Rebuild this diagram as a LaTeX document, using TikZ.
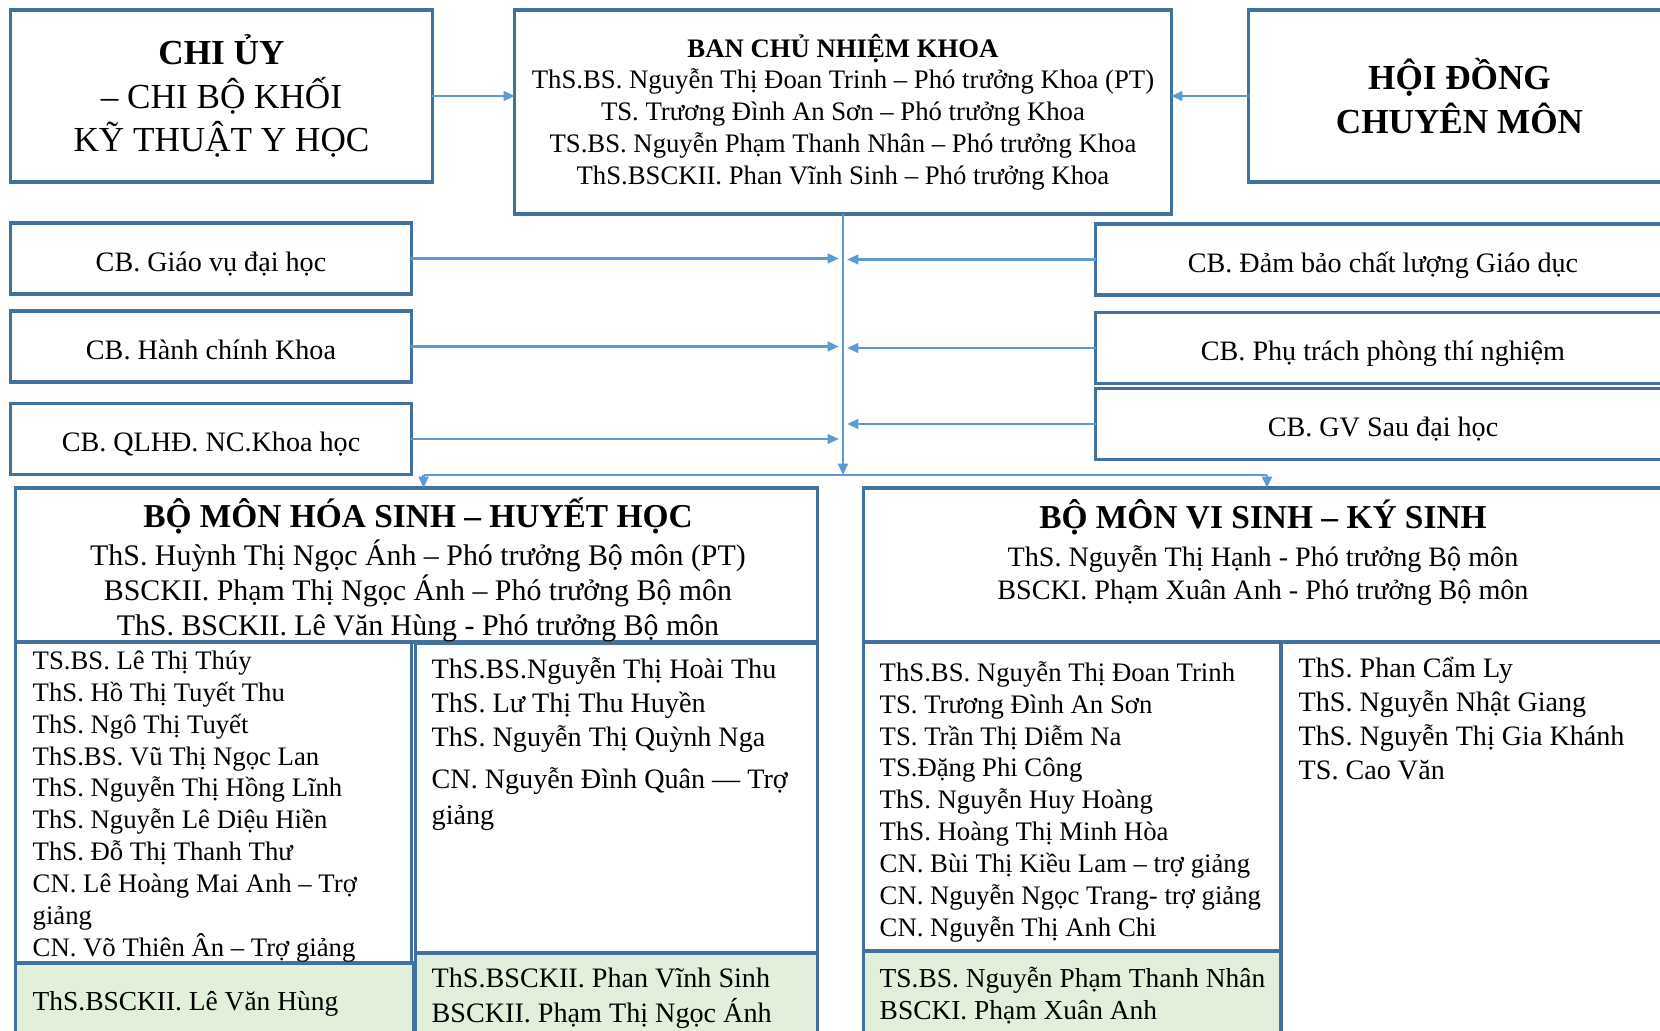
\documentclass[tikz,border=0pt]{standalone}
\usepackage{fontspec}
\setmainfont{Liberation Serif}
\usetikzlibrary{arrows.meta,positioning}
\definecolor{vienhop}{RGB}{65,113,156}
\definecolor{xanhnoi}{RGB}{91,155,213}
\definecolor{nenxanh}{RGB}{226,239,218}
\tikzset{
  hop/.style={draw=vienhop,line width=0.9pt,inner sep=0pt,outer sep=0pt,align=center},
  hopxanh/.style={hop,fill=nenxanh},
  hopcb/.style={hop,minimum height=0.71cm,text height=8.7pt,text depth=1.5pt},
  daynoi/.style={draw=xanhnoi,line width=0.6pt},
  muiten/.style={daynoi,-{Triangle[length=3.2pt,width=2.8pt]}},
  dsach/.style={inner sep=0pt,align=left,anchor=base west},
  tieude/.style={inner sep=0pt,align=center,anchor=base},
}
\begin{document}
\begin{tikzpicture}[x=0.01cm,y=-0.01cm]

    \def\cochu{\fontsize{7.6}{9.05}\selectfont}%chu nho
    \def\chuvua{\fontsize{8}{9.67}\selectfont}%chu vua
    \def\chuto{\fontsize{10}{12.3}\selectfont}%chu to

    \useasboundingbox (0,0) rectangle (1660,1031);
    \clip (0,0) rectangle (1660,1031);

    %Hang tren
    \node[hop,minimum width=4.21cm,minimum height=1.72cm,font=\chuto] (chiuy) at (221.5,96) {\textbf{CHI ỦY}\\– CHI BỘ KHỐI\\KỸ THUẬT Y HỌC};
    \node[hop,minimum width=6.56cm,minimum height=2.04cm,font=\cochu] (bcn) at (843,112) {\textbf{BAN CHỦ NHIỆM KHOA}\\ThS.BS. Nguyễn Thị Đoan Trinh – Phó trưởng Khoa (PT)\\TS. Trương Đình An Sơn – Phó trưởng Khoa\\TS.BS. Nguyễn Phạm Thanh Nhân – Phó trưởng Khoa\\ThS.BSCKII. Phan Vĩnh Sinh – Phó trưởng Khoa};
    \node[hop,minimum width=4.21cm,minimum height=1.72cm,font=\chuto\bfseries] (hoidong) at (1459.5,96) {HỘI ĐỒNG\\CHUYÊN MÔN};
    \draw[muiten] (chiuy.east) -- (chiuy.east -| bcn.west);
    \draw[muiten] (hoidong.west) -- (hoidong.west -| bcn.east);

    %Can bo hai ben
    \foreach \ten/\y/\chu in {gvu/258.5/CB. Giáo vụ đại học, hchinh/346.5/CB. Hành chính Khoa, qlhd/439/CB. QLHĐ. NC.Khoa học}{
        \node[hopcb,minimum width=4cm,font=\chuvua] (\ten) at (211,\y) {\chu};
        \draw[muiten] (\ten.east) -- ([xshift=-1.2pt]\ten.east -| bcn.south);
    }
    \foreach \ten/\y/\chu in {dbcl/259.5/CB. Đảm bảo chất lượng Giáo dục, ptpt/348/CB. Phụ trách phòng thí nghiệm, sdh/424/CB. GV Sau đại học}{
        \node[hopcb,minimum width=5.74cm,font=\chuvua] (\ten) at (1383,\y) {\chu};
        \draw[muiten] (\ten.west) -- ([xshift=1.2pt]\ten.west -| bcn.south);
    }

    %Bo mon (moc = dong cuoi)
    \node[hop,minimum width=8.01cm,minimum height=1.54cm] (hsinh) at (416.5,565) {};
    \node[tieude,font=\fontsize{9.5}{11}\selectfont\bfseries] (hsinhten) at (418,528) {BỘ MÔN HÓA SINH – HUYẾT HỌC};
    \node[tieude,font=\fontsize{8.5}{10}\selectfont] (hsinhpho) at (418,636) {ThS. Huỳnh Thị Ngọc Ánh – Phó trưởng Bộ môn (PT)\\BSCKII. Phạm Thị Ngọc Ánh – Phó trưởng Bộ môn\\ThS. BSCKII. Lê Văn Hùng - Phó trưởng Bộ môn};
    \node[hop,minimum width=8.06cm,minimum height=1.54cm] (vsinh) at (1267,565) {};
    \node[tieude,font=\fontsize{9.5}{11}\selectfont\bfseries] (vsinhten) at (1263,529) {BỘ MÔN VI SINH – KÝ SINH};
    \node[tieude,font=\fontsize{8}{9.6}\selectfont] (vsinhpho) at (1263,600) {ThS. Nguyễn Thị Hạnh - Phó trưởng Bộ môn\\BSCKI. Phạm Xuân Anh - Phó trưởng Bộ môn};

    %Cot danh sach
    \node[hop,minimum width=3.95cm,minimum height=3.21cm] (cot1) at (213.5,802.5) {};
    \node[hopxanh,minimum width=3.97cm,minimum height=0.82cm] (xanh1) at (214.5,1004) {};
    \node[hop,minimum width=4.01cm,minimum height=3.09cm] (cot2) at (616.5,798.5) {};
    \node[hopxanh,minimum width=4.01cm,minimum height=0.92cm] (xanh2) at (616.5,999) {};
    \node[hop,minimum width=4.17cm,minimum height=3.09cm] (cot3) at (1072.5,796.5) {};
    \node[hopxanh,minimum width=4.17cm,minimum height=0.94cm] (xanh3) at (1072.5,998) {};
    \node[hop,minimum width=3.89cm,minimum height=4.03cm] (cot4) at (1475.5,843.5) {};

    \node[dsach,font=\cochu] (ds1) at (32,956) {TS.BS. Lê Thị Thúy\\ThS. Hồ Thị Tuyết Thu\\ThS. Ngô Thị Tuyết\\ThS.BS. Vũ Thị Ngọc Lan\\ThS. Nguyễn Thị Hồng Lĩnh\\ThS. Nguyễn Lê Diệu Hiền\\ThS. Đỗ Thị Thanh Thư\\CN. Lê Hoàng Mai Anh – Trợ\\giảng\\CN. Võ Thiên Ân – Trợ giảng};
    \node[dsach,font=\chuvua] (ds2) at (431,825) {ThS.BS.Nguyễn Thị Hoài Thu\\ThS. Lư Thị Thu Huyền\\ThS. Nguyễn Thị Quỳnh Nga\\[2.3pt]CN. Nguyễn Đình Quân — Trợ\\[0.6pt]giảng};
    \node[dsach,font=\cochu] (ds3) at (879,936) {ThS.BS. Nguyễn Thị Đoan Trinh\\TS. Trương Đình An Sơn\\TS. Trần Thị Diễm Na\\TS.Đặng Phi Công\\ThS. Nguyễn Huy Hoàng\\ThS. Hoàng Thị Minh Hòa\\CN. Bùi Thị Kiều Lam – trợ giảng\\CN. Nguyễn Ngọc Trang- trợ giảng\\CN. Nguyễn Thị Anh Chi};
    \node[dsach,font=\chuvua] (ds4) at (1298,780) {ThS. Phan Cẩm Ly\\ThS. Nguyễn Nhật Giang\\ThS. Nguyễn Thị Gia Khánh\\TS. Cao Văn};
    \node[dsach,font=\fontsize{7.8}{9.1}\selectfont] (dx1) at (32,1011) {ThS.BSCKII. Lê Văn Hùng};
    \node[dsach,font=\chuvua] (dx2) at (431,1022) {ThS.BSCKII. Phan Vĩnh Sinh\\BSCKII. Phạm Thị Ngọc Ánh};
    \node[dsach,font=\fontsize{7.8}{9.1}\selectfont] (dx3) at (879,1020) {TS.BS. Nguyễn Phạm Thanh Nhân\\BSCKI. Phạm Xuân Anh};

    %Noi xuong bo mon
    \coordinate (chia) at (844,475);
    \draw[muiten] (bcn.south) -- (bcn.south |- chia);
    \draw[daynoi] ([xshift=2pt]hsinh.north |- chia) -- (vsinh.north |- chia);
    \draw[muiten] ([xshift=2pt]hsinh.north |- chia) -- ([xshift=2pt]hsinh.north);
    \draw[muiten] (vsinh.north |- chia) -- (vsinh.north);
\end{tikzpicture}
\end{document}
